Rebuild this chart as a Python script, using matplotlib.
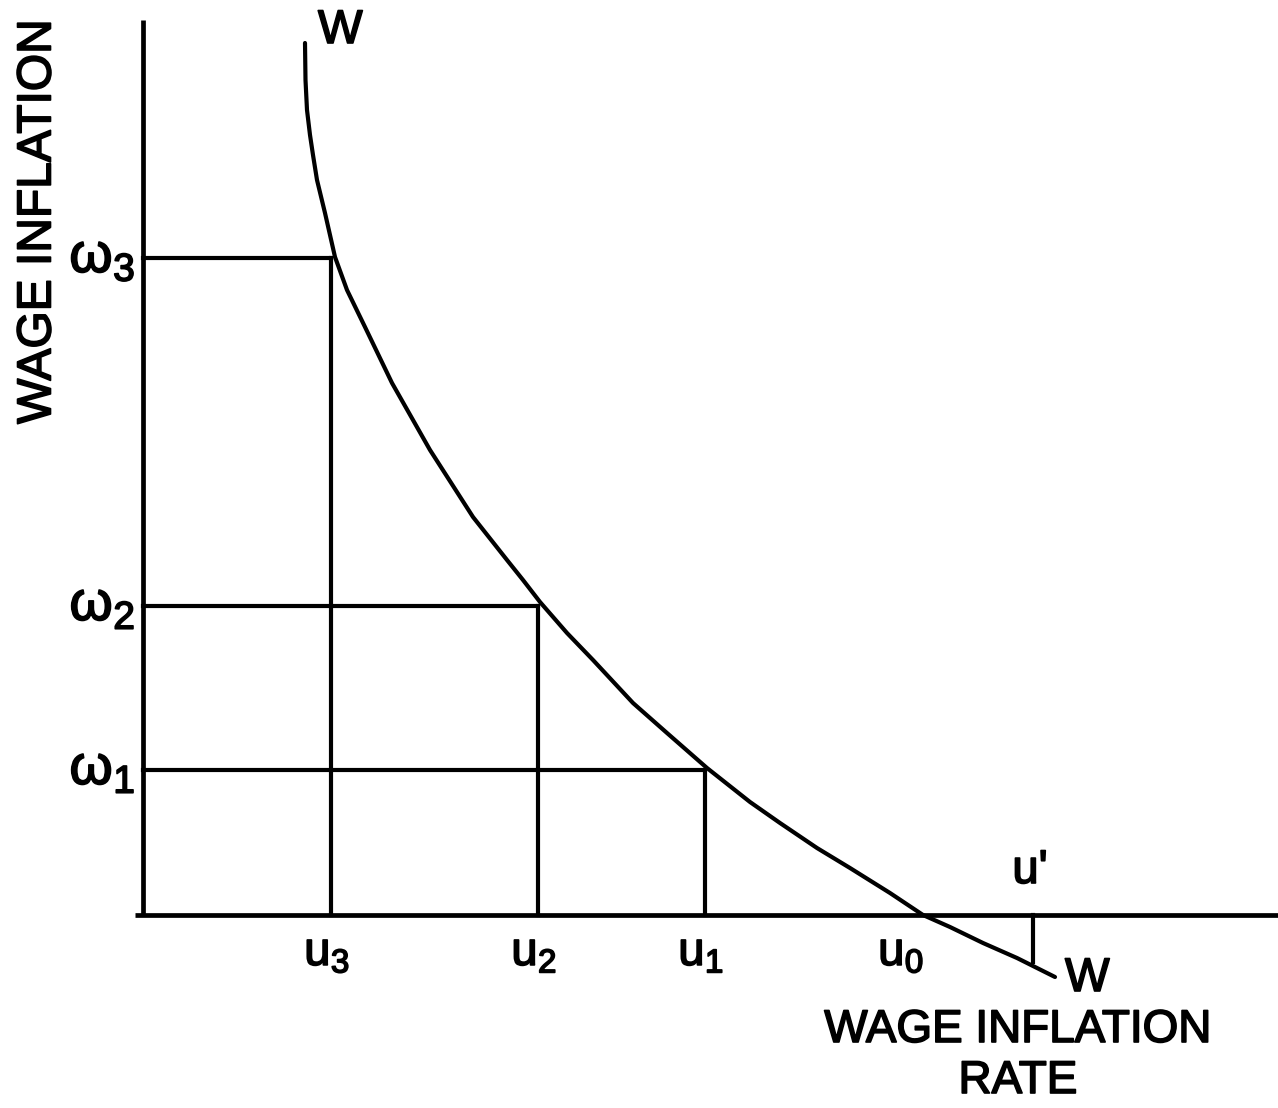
import matplotlib
matplotlib.use("Agg")
import matplotlib.pyplot as plt
import matplotlib.patheffects as pe

# Wage-inflation (Phillips) curve W-W
curve_u = [1.62, 1.625, 1.64, 1.67, 1.70, 1.74, 1.82, 1.92, 2.04, 2.22, 2.49,
           2.87, 3.30, 3.64, 3.80, 3.97, 4.24, 4.50, 4.90, 5.24, 5.64, 6.07,
           6.37, 6.74, 7.07, 7.47, 7.80, 8.07, 8.40, 8.74, 9.12]
curve_w = [8.72, 8.35, 8.05, 7.80, 7.60, 7.35, 7.02, 6.58, 6.25, 5.88, 5.32,
           4.65, 3.98, 3.55, 3.35, 3.13, 2.82, 2.55, 2.12, 1.82, 1.47, 1.13,
           0.92, 0.67, 0.47, 0.22, 0.00, -0.12, -0.28, -0.43, -0.62]

# reference points on the curve
u_points = [1.88, 3.95, 5.62]          # u3, u2, u1
w_points = [6.57, 3.09, 1.45]          # omega3, omega2, omega1
u_labels = ["u$_3$", "u$_2$", "u$_1$"]
w_labels = ["ω$_3$", "ω$_2$", "ω$_1$"]
u0 = 7.80
u_prime = 8.90
u_prime_w = -0.47

plt.rcParams['font.family'] = ['Liberation Sans', 'DejaVu Sans']
plt.rcParams['mathtext.fontset'] = 'custom'
plt.rcParams['mathtext.rm'] = 'Liberation Sans'
plt.rcParams['mathtext.it'] = 'Liberation Sans'

fig = plt.figure(figsize=(12.78, 11.08), dpi=100)
ax = fig.add_axes([0, 0, 1, 1])
ax.set_xlim(-1.43, 11.35)
ax.set_ylim(-1.93, 9.15)
ax.axis('off')

lw_axis = 3.4
lw = 3.0
# axes
ax.plot([0, 0], [0, 8.95], color='black', lw=lw_axis, solid_capstyle='butt')
ax.plot([-0.08, 11.35], [0, 0], color='black', lw=lw_axis, solid_capstyle='butt')

# curve
ax.plot(curve_u, curve_w, color='black', lw=lw, solid_capstyle='round',
        solid_joinstyle='round')

# guide lines
for u, w in zip(u_points, w_points):
    ax.plot([0, u], [w, w], color='black', lw=lw)
    ax.plot([u, u], [0, w], color='black', lw=lw)
ax.plot([u_prime, u_prime], [0, u_prime_w], color='black', lw=lw)

heavy = [pe.withStroke(linewidth=1.2, foreground='black')]
fs = 34
# omega labels
for w, lab in zip(w_points, w_labels):
    ax.text(-0.08, w, lab, ha='right', va='center', fontsize=40, path_effects=heavy)
# u labels
for u, lab in zip(u_points, u_labels):
    ax.text(u - 0.04, -0.16, lab, ha='center', va='top', fontsize=fs, path_effects=heavy)
ax.text(u0 - 0.22, -0.16, "u$_0$", ha='center', va='top', fontsize=fs, path_effects=heavy)
ax.text(u_prime - 0.03, 0.22, "u'", ha='center', va='bottom', fontsize=fs, path_effects=heavy)

# curve labels
ax.text(1.75, 8.84, "W", ha='left', va='center', fontsize=fs, path_effects=heavy)
ax.text(9.22, -0.64, "W", ha='left', va='center', fontsize=fs, path_effects=heavy)

# axis titles
ax.text(8.75, -1.15, "WAGE INFLATION", ha='center', va='center', fontsize=33, path_effects=heavy)
ax.text(8.75, -1.66, "RATE", ha='center', va='center', fontsize=33, path_effects=heavy)
ax.text(-1.05, 6.93, "WAGE INFLATION", ha='center', va='center', rotation=90,
        fontsize=34.5, path_effects=heavy)

fig.savefig("out.png", dpi=100, facecolor='white')
